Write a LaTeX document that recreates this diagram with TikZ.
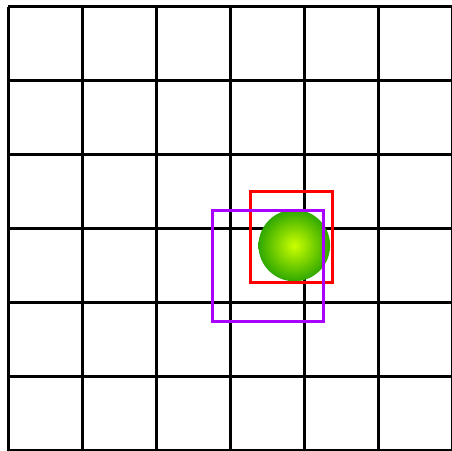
\documentclass[tikz,border=0pt]{standalone}
\usepackage{xcolor}
\usepackage{tikz}
\usetikzlibrary{calc}

\definecolor{ballcore}{HTML}{CCFF00}
\definecolor{ballrim}{HTML}{2FA800}
\definecolor{boxviolet}{HTML}{AA00FF}

\begin{document}
\begin{tikzpicture}[
  x=1pt, y=-1pt,
  gridline/.style={draw=black,line width=3pt},
  redbox/.style={draw=red,line width=3pt},
  violetbox/.style={draw=boxviolet,line width=3pt},
  ballshade/.style={inner color=ballcore,outer color=ballrim},
]
\begin{scope}
\clip (0,0) rectangle (452,450);
% grid
\foreach \k in {0,...,6} {
  \draw[gridline] (8.3+74*\k,6.5) -- (8.3+74*\k,450.5);
  \draw[gridline] (8.3,6.5+74*\k) -- (452.3,6.5+74*\k);
}
% ball and boxes
\coordinate (ball) at (294.3,245.5);
\shade[ballshade] (ball) circle[radius=35.8];
\draw[redbox] (250,191.7) rectangle (332.3,282.3);
\draw[violetbox] (212.3,210) rectangle (323.3,321);
\end{scope}
\pgfresetboundingbox
\useasboundingbox (0,0) rectangle (452,450);
\end{tikzpicture}
\end{document}
